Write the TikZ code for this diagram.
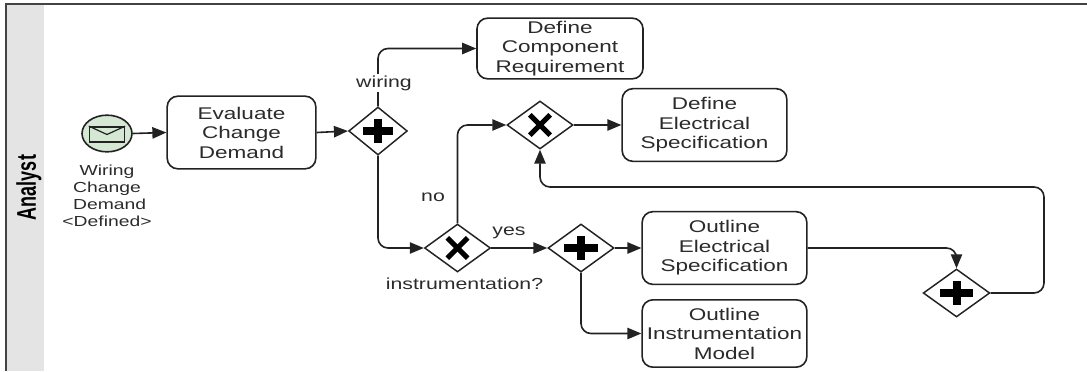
\documentclass[tikz,border=0pt]{standalone}
\usepackage{fontspec}
\setmainfont[FakeStretch=1.33]{Liberation Sans}
\newfontfamily\plainsans{Liberation Sans}
\usetikzlibrary{arrows.meta,shapes.geometric}
\definecolor{ink}{HTML}{222222}
\definecolor{txt}{HTML}{2B2B2B}
\definecolor{lanegray}{HTML}{E4E4E4}
\definecolor{evgreen}{HTML}{D5E8D4}
\tikzset{
  x=0.75pt,y=-0.75pt,
  task/.style={draw=ink,line width=1.2pt,rounded corners=8pt,fill=white,align=center,inner sep=0pt,
    font=\fontsize{12.7pt}{14.6pt}\selectfont,text=txt},
  gate/.style={draw=ink,line width=1.1pt,fill=white,diamond,aspect=1.38,inner sep=0pt},
  flow/.style={draw=ink,line width=1.2pt,-{Triangle[length=10.5pt,width=8.5pt]}},
  bendy/.style={rounded corners=7.5pt},
  lbl/.style={font=\fontsize{12pt}{14pt}\selectfont,text=txt,inner sep=0pt},
}
\newcommand{\plusmark}[2][12.4pt]{%
  \draw[line width=5.5pt,black] ([xshift=-#1]#2.center) -- ([xshift=#1]#2.center);
  \draw[line width=6pt,black] ([yshift=-9pt]#2.center) -- ([yshift=9pt]#2.center);}
\newcommand{\crossmark}[1]{%
  \draw[line width=3.9pt,black] ([xshift=-7.6pt,yshift=-7.6pt]#1.center) -- ([xshift=7.6pt,yshift=7.6pt]#1.center);
  \draw[line width=3.9pt,black] ([xshift=-7.6pt,yshift=7.6pt]#1.center) -- ([xshift=7.6pt,yshift=-7.6pt]#1.center);}
\begin{document}
\begin{tikzpicture}
\useasboundingbox (0,0) rectangle (1087,371);
% lane
\fill[lanegray] (7,5) rectangle (44,371);
\draw[draw=ink!85,line width=1.3pt] (6,371) -- (6,4) -- (1087,4);
\node[rotate=90,font=\plainsans\bfseries\fontsize{13.5pt}{16pt}\selectfont,yscale=1.5,transform shape,inner sep=0pt,text=black] (lane) at (29,187.5) {Analyst};
% start event
\node[draw=ink,line width=1.2pt,fill=evgreen,ellipse,minimum width=37.5pt,minimum height=27.5pt,inner sep=0pt] (start) at (107,133.5) {};
\node[draw=ink,line width=1.2pt,minimum width=26pt,minimum height=11.3pt,inner sep=0pt] (env) at (107,134.5) {};
\draw[draw=ink,line width=0.9pt] (env.north west) -- (env.center) -- (env.north east);
\node[font=\fontsize{10.9pt}{12.8pt}\selectfont,text=txt,align=center,inner sep=0pt] (startlbl) at (107,195.5)
  {Wiring\\Change\hspace*{4pt}\\\hspace*{4pt}Demand\\<Defined>};
% tasks
\node[task,minimum width=111.5pt,minimum height=54.5pt] (eval) at (241.5,132.5) {Evaluate\\Change\\Demand};
\node[task,minimum width=124.5pt,minimum height=45.5pt] (comp) at (560,48.5) {Define\\Component\\Requirement};
\node[task,minimum width=123.5pt,minimum height=54.5pt] (elec) at (704.5,125) {Define\\Electrical\\Specification};
\node[task,minimum width=123.5pt,minimum height=54.5pt] (oelec) at (724.5,248) {Outline\\Electrical\\Specification};
\node[task,minimum width=123.5pt,minimum height=50.5pt] (oinst) at (724.5,333.5) {Outline\\Instrumentation\\Model};
% gateways
\node[gate,minimum width=44pt,minimum height=36pt] (g1) at (378,131) {};
\node[gate,minimum width=49.5pt,minimum height=36pt] (x2) at (540,125) {};
\node[gate,minimum width=49.5pt,minimum height=36pt] (x1) at (457.5,248) {};
\node[gate,minimum width=49.5pt,minimum height=36pt] (g2) at (581,248) {};
\node[gate,minimum width=50pt,minimum height=36pt] (g3) at (956.5,293) {};
\plusmark[11pt]{g1}\plusmark{g2}\plusmark{g3}
\crossmark{x1}\crossmark{x2}
% corner helpers
\coordinate (loopA) at (1044,293);
\coordinate (loopB) at (1044,187);
\coordinate (loopC) at (540,187);
% connectors
\draw[flow] (start.east) -- (eval.west);
\draw[flow] (eval.east) -- (g1.west);
\draw[flow] (g1.north) [bendy] |- (comp.west) [sharp corners];
\draw[flow] (g1.south) [bendy] |- (x1.west) [sharp corners];
\draw[flow] (x1.north) [bendy] |- (x2.west) [sharp corners];
\draw[flow] (x2.east) -- (elec.west);
\draw[flow] (x1.east) -- (g2.west);
\draw[flow] (g2.east) -- (oelec.west);
\draw[flow] (g2.south) [bendy] |- (oinst.west) [sharp corners];
\draw[flow] (oelec.east) [bendy] -| (g3.north) [sharp corners];
\draw[flow] (g3.east) [bendy] -- (loopA) -- (loopB) -- (loopC) -- (x2.south) [sharp corners];
% labels
\node[lbl,fill=white,inner ysep=1pt] (lw) at (384,83) {wiring};
\node[lbl] (lno) at (433,197) {no};
\node[lbl] (lyes) at (509,233) {yes};
\node[lbl] (lins) at (464.5,284) {instrumentation?};
\end{tikzpicture}
\end{document}
